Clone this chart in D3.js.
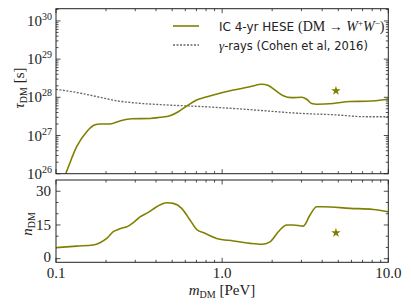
<!DOCTYPE html>
<html>
<head>
<meta charset="utf-8">
<style>
  body { margin: 0; background: #fff; }
  svg text { font-family: "Liberation Serif", serif; fill: #222; }
  .sans { font-family: "DejaVu Sans", sans-serif; }
</style>
</head>
<body>
<svg id="chart" width="411" height="308"></svg>
<script src="https://cdn.jsdelivr.net/npm/d3@7"></script>
<script>
// IceCube fit: DM mass (PeV), lifetime (s), number of events
const massTau = [0.1, 0.1144, 0.1332, 0.1531, 0.1717, 0.184, 0.2113, 0.2427, 0.2855, 0.3679, 0.4224,
  0.4855, 0.5446, 0.6116, 0.7029, 0.7884, 0.8844, 1.167, 1.471, 1.730, 1.896, 2.080, 2.334, 2.622,
  3.012, 3.228, 3.459, 3.708, 4.667, 5.882, 7.413, 10.0];
const tauIC = [2.5e25, 1.0e26, 5.1e26, 1.26e27, 1.9e27, 2.0e27, 2.0e27, 2.4e27, 2.75e27, 2.8e27, 3.0e27,
  3.3e27, 4.2e27, 5.9e27, 8.5e27, 1.0e28, 1.15e28, 1.55e28, 1.9e28, 2.2e28, 2.05e28, 1.55e28, 1.1e28, 9.8e27,
  1.0e28, 8.9e27, 6.9e27, 6.6e27, 6.9e27, 7.8e27, 7.9e27, 8.9e27];

// gamma-ray limit (Cohen et al 2016)
const massGamma = [0.1, 0.116, 0.1394, 0.184, 0.2318, 0.2918, 0.4638, 0.7357, 1.167, 1.854, 2.942, 4.667, 7.413, 10.0];
const tauGamma = [1.62e28, 1.48e28, 1.29e28, 1.0e28, 8.1e27, 7.2e27, 6.3e27, 5.75e27, 5.1e27, 4.4e27, 3.8e27, 3.5e27, 3.1e27, 3.1e27];

const massN = [0.1, 0.1332, 0.1677, 0.184, 0.2019, 0.2212, 0.2427, 0.2723, 0.2918, 0.3203, 0.3593, 0.4037,
  0.4638, 0.5082, 0.5708, 0.6405, 0.7029, 0.7884, 0.927, 1.167, 1.471, 1.730, 1.941, 2.178, 2.446, 2.681,
  3.079, 3.379, 3.708, 4.063, 5.882, 8.124, 10.0];
const nIC = [4.9, 5.6, 6.1, 7.1, 9.0, 12.0, 13.3, 14.5, 16.0, 18.6, 20.6, 23.1,
  24.9, 24.6, 22.4, 17.2, 13.0, 11.3, 9.0, 7.9, 6.8, 6.4, 7.5, 12.0, 15.0, 15.0,
  14.5, 19.4, 23.1, 23.1, 22.4, 21.9, 20.9];

// best fit point
const bestMass = [4.84];
const bestTau = [1.48e28];
const bestN = [11.5];

const xTicks = [0.1, 1, 10];
const xTickLabels = ["0.1", "1.0", "10.0"];
const tauTicks = [26, 27, 28, 29, 30];
const nTicks = [0, 15, 30];
const nMinor = [5, 10, 20, 25];

const olive = "#808000";
const svg = d3.select("#chart");
const left = 56, right = 388.3;

const x = d3.scaleLog().domain([0.1, 10]).range([left, right]);
const yTau = d3.scaleLog().domain([1e26, Math.pow(10, 30.32)]).range([173.7, 8.7]);
const yN = d3.scaleLinear().domain([-1.6, 35]).range([262.3, 180]);

const panels = [
  {y: yTau, top: 8.7, bottom: 173.7, id: "p1"},
  {y: yN, top: 180, bottom: 262.3, id: "p2"}
];

panels.forEach(p => {
  svg.append("clipPath").attr("id", p.id)
    .append("rect").attr("x", left).attr("y", p.top)
    .attr("width", right - left).attr("height", p.bottom - p.top);
});

// x ticks on both panels, top and bottom, pointing inward
const xMinor = [];
[0.1, 1].forEach(d => { for (let k = 2; k <= 9; k++) xMinor.push(d * k); });

function xTickMarks(p) {
  const g = svg.append("g").attr("stroke", "#222").attr("stroke-width", 0.8);
  xTicks.concat(xMinor).forEach(v => {
    const len = xTicks.includes(v) ? 4.5 : 2.5;
    g.append("line").attr("x1", x(v)).attr("x2", x(v))
      .attr("y1", p.bottom).attr("y2", p.bottom - len);
    g.append("line").attr("x1", x(v)).attr("x2", x(v))
      .attr("y1", p.top).attr("y2", p.top + len);
  });
}
panels.forEach(xTickMarks);

// y ticks top panel
const tauMinor = [];
d3.range(25, 31).forEach(e => { for (let k = 2; k <= 9; k++) tauMinor.push(k * Math.pow(10, e)); });
const gT = svg.append("g").attr("stroke", "#222").attr("stroke-width", 0.8);
tauTicks.map(e => Math.pow(10, e)).forEach(v => {
  gT.append("line").attr("x1", left).attr("x2", left + 4.5).attr("y1", yTau(v)).attr("y2", yTau(v));
  gT.append("line").attr("x1", right).attr("x2", right - 4.5).attr("y1", yTau(v)).attr("y2", yTau(v));
});
tauMinor.filter(v => v > 1e26 && v < Math.pow(10, 30.32)).forEach(v => {
  gT.append("line").attr("x1", left).attr("x2", left + 2.5).attr("y1", yTau(v)).attr("y2", yTau(v));
  gT.append("line").attr("x1", right).attr("x2", right - 2.5).attr("y1", yTau(v)).attr("y2", yTau(v));
});
tauTicks.forEach(e => {
  const t = svg.append("text").attr("x", 52).attr("y", yTau(Math.pow(10, e)) + 5)
    .attr("text-anchor", "end").style("font-size", "15px");
  t.append("tspan").text("10");
  t.append("tspan").attr("dy", -6).style("font-size", "10px").text(e);
});

// y ticks bottom panel
const gN = svg.append("g").attr("stroke", "#222").attr("stroke-width", 0.8);
nTicks.concat(nMinor).forEach(v => {
  const len = nTicks.includes(v) ? 4.5 : 2.5;
  gN.append("line").attr("x1", left).attr("x2", left + len).attr("y1", yN(v)).attr("y2", yN(v));
  gN.append("line").attr("x1", right).attr("x2", right - len).attr("y1", yN(v)).attr("y2", yN(v));
});
nTicks.forEach(v => {
  svg.append("text").attr("x", 51).attr("y", yN(v) + (v === 0 ? 3.5 : 5))
    .attr("text-anchor", "end").style("font-size", "15px").text(v);
});

// x tick labels
xTicks.forEach((v, i) => {
  svg.append("text").attr("x", x(v)).attr("y", 277.5)
    .attr("text-anchor", "middle").style("font-size", "15px").text(xTickLabels[i]);
});

// curves
const lineTau = d3.line().curve(d3.curveMonotoneX).x(d => x(d[0])).y(d => yTau(d[1]));
const lineN = d3.line().curve(d3.curveMonotoneX).x(d => x(d[0])).y(d => yN(d[1]));

svg.append("path").attr("clip-path", "url(#p1)")
  .attr("d", lineTau(d3.zip(massGamma, tauGamma)))
  .attr("fill", "none").attr("stroke", "#666").attr("stroke-width", 1.3)
  .attr("stroke-dasharray", "2,1.5");
svg.append("path").attr("clip-path", "url(#p1)")
  .attr("d", lineTau(d3.zip(massTau, tauIC)))
  .attr("fill", "none").attr("stroke", olive).attr("stroke-width", 1.6);
svg.append("path").attr("clip-path", "url(#p2)")
  .attr("d", lineN(d3.zip(massN, nIC)))
  .attr("fill", "none").attr("stroke", olive).attr("stroke-width", 1.6);

const star = d3.symbol().type(d3.symbolStar).size(28);
svg.append("path").attr("d", star())
  .attr("transform", `translate(${x(bestMass[0])},${yTau(bestTau[0])})`).attr("fill", olive);
svg.append("path").attr("d", star())
  .attr("transform", `translate(${x(bestMass[0])},${yN(bestN[0])})`).attr("fill", olive);

// frames
panels.forEach(p => {
  svg.append("rect").attr("x", left).attr("y", p.top)
    .attr("width", right - left).attr("height", p.bottom - p.top)
    .attr("fill", "none").attr("stroke", "#222").attr("stroke-width", 1);
});

// legend
svg.append("line").attr("x1", 173).attr("x2", 199).attr("y1", 26).attr("y2", 26)
  .attr("stroke", olive).attr("stroke-width", 1.6);
svg.append("line").attr("x1", 173).attr("x2", 199).attr("y1", 45).attr("y2", 45)
  .attr("stroke", "#666").attr("stroke-width", 1.3).attr("stroke-dasharray", "2,1.5");
const l1 = svg.append("text").attr("x", 219).attr("y", 30.5).style("font-size", "14px");
l1.append("tspan").attr("class", "sans").style("font-size", "12px").text("IC 4-yr HESE ");
l1.append("tspan").text("(DM → ");
l1.append("tspan").style("font-style", "italic").text("W");
l1.append("tspan").attr("dy", -5).style("font-size", "9px").text("+");
l1.append("tspan").attr("dy", 5).style("font-style", "italic").text("W");
l1.append("tspan").attr("dy", -5).style("font-size", "9px").text("−");
l1.append("tspan").attr("dy", 5).text(")");
const l2 = svg.append("text").attr("x", 219).attr("y", 49.5).style("font-size", "12px");
l2.append("tspan").style("font-style", "italic").style("font-size", "13px").text("γ");
l2.append("tspan").attr("class", "sans").style("font-size", "11.5px").text("-rays (Cohen et al, 2016)");

// axis labels
const yl1 = svg.append("text").attr("transform", "translate(24,88) rotate(-90)")
  .attr("text-anchor", "middle").style("font-size", "15px");
yl1.append("tspan").style("font-style", "italic").text("τ");
yl1.append("tspan").attr("dy", 3).style("font-size", "10px").text("DM");
yl1.append("tspan").attr("dy", -3).text(" [s]");

const yl2 = svg.append("text").attr("transform", "translate(32,224) rotate(-90)")
  .attr("text-anchor", "middle").style("font-size", "15px");
yl2.append("tspan").style("font-style", "italic").text("n");
yl2.append("tspan").attr("dy", 3).style("font-size", "10px").text("DM");

const xl = svg.append("text").attr("x", 222).attr("y", 295)
  .attr("text-anchor", "middle").style("font-size", "15px");
xl.append("tspan").style("font-style", "italic").text("m");
xl.append("tspan").attr("dy", 3).style("font-size", "10px").text("DM");
xl.append("tspan").attr("dy", -3).text(" [PeV]");
</script>
</body>
</html>
